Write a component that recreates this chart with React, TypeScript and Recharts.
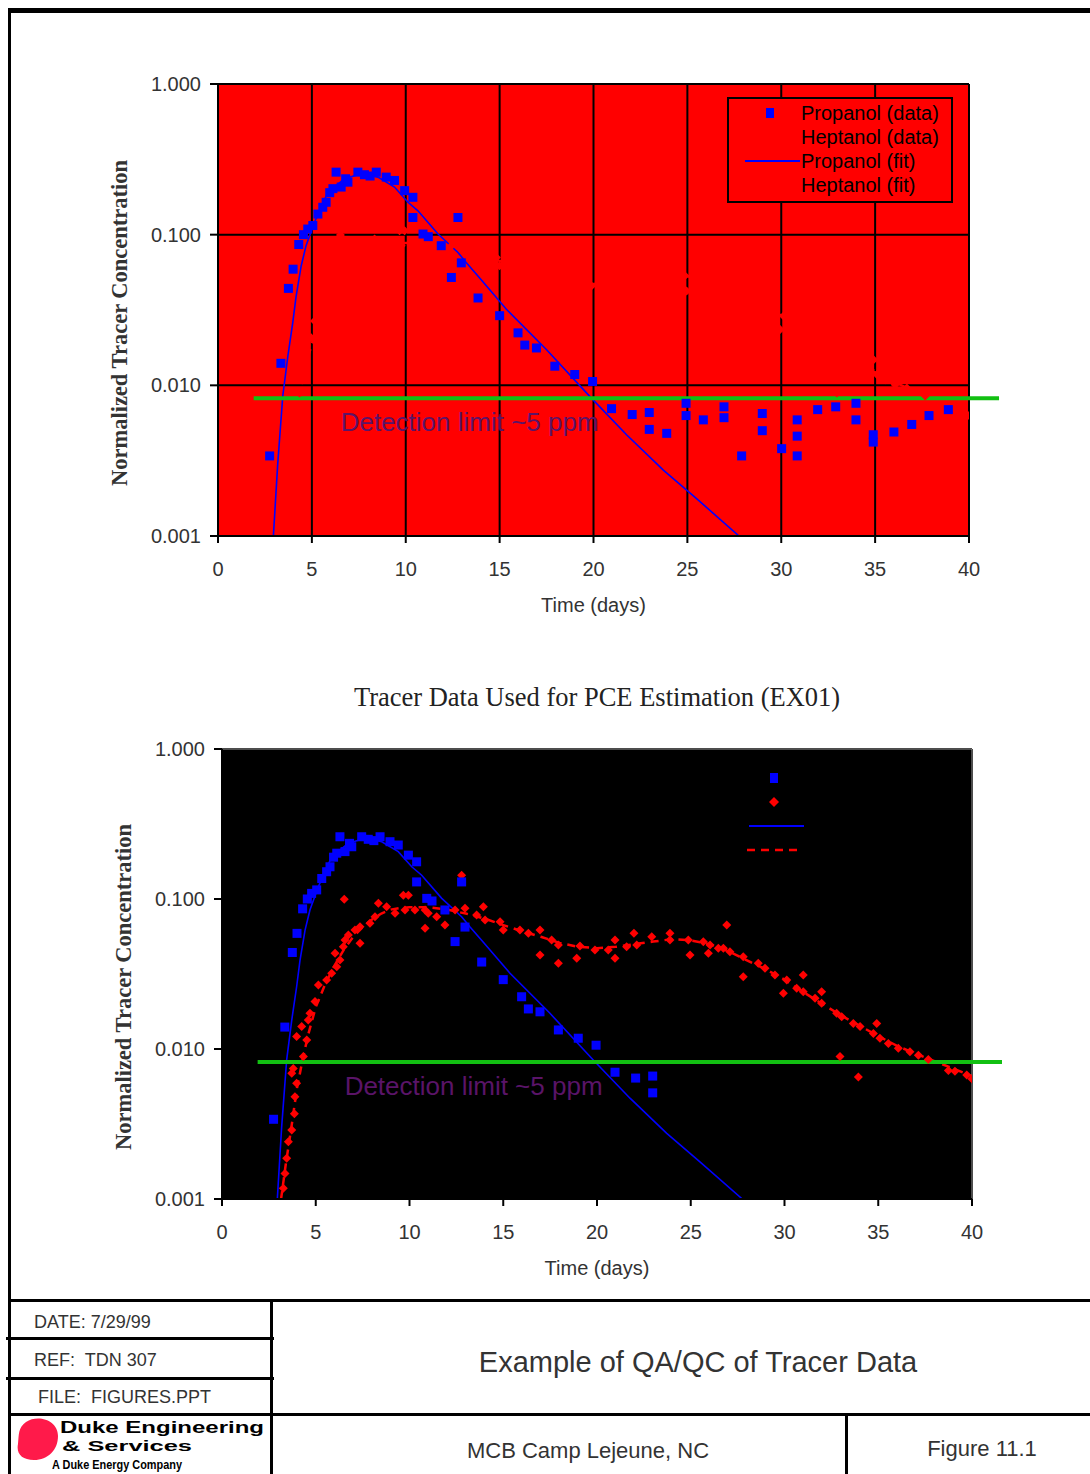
import React from "react";
import {
  CartesianGrid,
  ComposedChart,
  Legend,
  Line,
  ReferenceLine,
  Scatter,
  XAxis,
  YAxis,
} from "recharts";

const SANS = '"Liberation Sans", Arial, sans-serif';
const SERIF = '"Liberation Serif", "Times New Roman", serif';

// Axis setup shared by both panels.
const X_TICKS = [0, 5, 10, 15, 20, 25, 30, 35, 40];
const Y_TICKS = [0.001, 0.01, 0.1, 1];
const DETECTION_LIMIT = 0.0082;

// [day, normalized concentration].
const PROPANOL_DATA = [
  [2.75, 0.0034], [3.35, 0.014], [3.75, 0.044], [4.0, 0.059], [4.3, 0.086],
  [4.55, 0.1], [4.78, 0.109], [5.05, 0.115], [5.32, 0.137], [5.58, 0.152],
  [5.76, 0.164], [5.95, 0.19], [6.12, 0.202], [6.29, 0.26], [6.56, 0.207],
  [6.8, 0.235], [6.92, 0.223], [7.45, 0.26], [7.8, 0.25], [8.1, 0.245],
  [8.43, 0.26], [8.96, 0.241], [9.4, 0.229], [9.94, 0.196], [10.38, 0.177],
  [10.38, 0.13], [10.92, 0.101], [11.2, 0.097], [11.89, 0.0845], [12.43, 0.052],
  [12.78, 0.13], [12.96, 0.065], [13.85, 0.038], [15.0, 0.029], [15.98, 0.0223],
  [16.34, 0.0185], [16.96, 0.0177], [17.94, 0.0134], [19.0, 0.0118], [19.95, 0.0106],
  [20.96, 0.007], [22.06, 0.0064], [22.97, 0.0066], [22.97, 0.0051],
];

// Propanol samples below the detection limit (only plotted in the raw panel).
const PROPANOL_BELOW_LIMIT = [
  [23.9, 0.0048], [24.93, 0.0076], [24.93, 0.0063], [25.85, 0.0059], [26.95, 0.0072],
  [26.95, 0.0061], [27.89, 0.0034], [28.99, 0.0065], [28.99, 0.005], [30.02, 0.0038],
  [30.85, 0.0059], [30.85, 0.0046], [30.85, 0.0034], [31.94, 0.0069], [32.9, 0.0072],
  [33.98, 0.0076], [33.98, 0.0059], [34.9, 0.0047], [34.9, 0.0042], [36.0, 0.0049],
  [36.95, 0.0055], [37.87, 0.0063], [38.9, 0.0069],
];

const HEPTANOL_DATA = [
  [3.27, 0.00118], [3.36, 0.00148], [3.45, 0.00187], [3.54, 0.00241], [3.72, 0.00288],
  [3.72, 0.0069], [3.8, 0.0074], [3.86, 0.0037], [3.89, 0.0048], [3.98, 0.0059],
  [3.98, 0.0121], [4.25, 0.0141], [4.34, 0.0089], [4.52, 0.0115], [4.6, 0.0156],
  [4.69, 0.0173], [4.96, 0.0207], [5.14, 0.0267], [5.58, 0.0288], [5.85, 0.032],
  [6.03, 0.0435], [6.12, 0.0354], [6.29, 0.0392], [6.47, 0.0481], [6.52, 0.0995],
  [6.56, 0.0533], [6.74, 0.0575], [7.09, 0.0621], [7.36, 0.0654], [7.36, 0.0507],
  [7.89, 0.0689], [8.16, 0.0762], [8.34, 0.0936], [8.78, 0.0889], [9.23, 0.0803],
  [9.67, 0.106], [9.76, 0.0845], [9.94, 0.106], [10.29, 0.0845], [10.83, 0.0845],
  [10.83, 0.0638], [11.0, 0.0803], [11.45, 0.0762], [11.89, 0.0671], [12.43, 0.0845],
  [12.78, 0.144], [12.96, 0.0867], [13.58, 0.0782], [13.94, 0.0889], [14.03, 0.0724],
  [14.83, 0.0706], [15.0, 0.0621], [15.89, 0.0621], [16.34, 0.059], [16.96, 0.0621],
  [16.96, 0.0423], [17.58, 0.0533], [17.94, 0.0494], [17.94, 0.0373], [18.92, 0.0402],
  [19.09, 0.0486], [19.89, 0.0457], [20.6, 0.0457], [20.96, 0.0533], [20.96, 0.0402],
  [21.58, 0.0481], [21.97, 0.059], [22.12, 0.0494], [22.92, 0.0561], [23.89, 0.059],
  [23.89, 0.0533], [24.87, 0.0533], [24.96, 0.0423], [25.67, 0.0519], [25.94, 0.0435],
  [26.03, 0.0494], [26.47, 0.0469], [26.74, 0.0469], [26.92, 0.0671], [27.09, 0.0445],
  [27.8, 0.0412], [27.8, 0.0303], [28.6, 0.0373], [28.96, 0.0345], [29.49, 0.0311],
  [29.94, 0.0235], [30.12, 0.0288], [30.65, 0.0254], [31.0, 0.0311], [31.0, 0.0241],
  [31.63, 0.0218], [31.98, 0.0241], [31.98, 0.0202], [32.78, 0.0173], [32.96, 0.0089],
  [33.05, 0.0164], [33.67, 0.0148], [33.94, 0.0065], [34.03, 0.0141], [34.74, 0.0127],
  [34.92, 0.0148], [35.09, 0.0118], [35.54, 0.0109], [36.07, 0.0101], [36.69, 0.0096],
  [37.14, 0.0091], [37.67, 0.0085], [38.74, 0.0072], [39.09, 0.0071], [39.72, 0.0067],
  [40.0, 0.0063],
];

const PROPANOL_FIT = [
  [2.95, 0.001], [3.18, 0.003], [3.45, 0.0085], [3.72, 0.0156], [3.98, 0.026],
  [4.16, 0.039], [4.43, 0.062], [4.69, 0.0845], [5.14, 0.121], [5.85, 0.191],
  [6.74, 0.235], [7.63, 0.254], [8.52, 0.241], [9.4, 0.207], [10.12, 0.164],
  [10.65, 0.144], [11.72, 0.101], [12.78, 0.0762], [13.23, 0.065], [14.03, 0.05],
  [15.36, 0.032], [17.49, 0.0173], [19.8, 0.00845], [21.76, 0.0047], [23.72, 0.00274],
  [25.49, 0.00177], [27.75, 0.001],
];

const HEPTANOL_FIT = [
  [3.15, 0.001], [3.4, 0.0017], [3.7, 0.003], [4.0, 0.0055], [4.3, 0.0085],
  [4.6, 0.0125], [5.0, 0.019], [5.5, 0.027], [6.0, 0.036], [6.5, 0.046],
  [7.0, 0.056], [7.5, 0.065], [8.0, 0.073], [8.5, 0.08], [9.0, 0.085],
  [9.5, 0.087], [10, 0.088], [11, 0.088], [12, 0.085], [13, 0.08],
  [14, 0.074], [15, 0.067], [16, 0.061], [17, 0.056], [18, 0.051],
  [19, 0.048], [20, 0.047], [21, 0.048], [22, 0.05], [23, 0.052],
  [24, 0.054], [25, 0.053], [26, 0.05], [27, 0.045], [28, 0.039],
  [29, 0.034], [30, 0.029], [31, 0.024], [32, 0.02], [33, 0.0168],
  [34, 0.0143], [35, 0.0122], [36, 0.0105], [37, 0.0093], [38, 0.0083],
  [39, 0.0074], [40, 0.0066],
];

const LEGEND_ITEMS = [
  { name: "Propanol (data)", kind: "square" },
  { name: "Heptanol (data)", kind: "diamond" },
  { name: "Propanol (fit)", kind: "line" },
  { name: "Heptanol (fit)", kind: "dash" },
];

type Pt = { t: number; v: number };
const toPts = (rows: number[][]): Pt[] => rows.map(([t, v]) => ({ t, v }));

const BLUE = "#0000ff";
const RED = "#ff0000";
const GREEN = "#12c012";

// Chart-frame constants: plot area begins at (PLOT_X, PLOT_Y) inside the svg.
const MARGIN = { top: 24, right: 41, bottom: 64, left: 18 };
const Y_AXIS_W = 100;
const X_AXIS_H = 40;
const PLOT_X = MARGIN.left + Y_AXIS_W;
const PLOT_Y = MARGIN.top;

const AXIS_TICK = { fontSize: 20, fill: "#333", fontFamily: SANS };
const AXIS_STROKE = { stroke: "#000", strokeWidth: 2 };

function SquareDot(props: any) {
  const { cx, cy } = props;
  if (cx == null || cy == null) return <g />;
  return <rect x={cx - 4.5} y={cy - 4.5} width={9} height={9} fill={BLUE} />;
}

function DiamondDot(props: any) {
  const { cx, cy } = props;
  if (cx == null || cy == null) return <g />;
  const r = 4.5;
  return (
    <polygon
      points={`${cx},${cy - r} ${cx + r},${cy} ${cx},${cy + r} ${cx - r},${cy}`}
      fill={RED}
    />
  );
}

// The legend box is opaque (same fill as the plot), so grid lines stop at its edge.
function LegendBox({ bg }: { bg: string }) {
  return (
    <div
      style={{
        boxSizing: "border-box",
        width: 226,
        height: 106,
        border: "2px solid #000",
        background: bg,
        paddingTop: 2,
        fontFamily: SANS,
        fontSize: 20,
        color: "#000",
      }}
    >
      {LEGEND_ITEMS.map((item) => (
        <div key={item.name} style={{ display: "flex", alignItems: "center", height: 24 }}>
          <svg width={72} height={24} style={{ flex: "none" }}>
            {item.kind === "square" && <rect x={37} y={7} width={8} height={10} fill={BLUE} />}
            {item.kind === "diamond" && (
              <polygon points="41,7 46,12 41,17 36,12" fill={RED} />
            )}
            {item.kind === "line" && (
              <line x1={16} x2={71} y1={12} y2={12} stroke={BLUE} strokeWidth={2} />
            )}
            {item.kind === "dash" && (
              <line
                x1={14}
                x2={70}
                y1={12}
                y2={12}
                stroke={RED}
                strokeWidth={2.5}
                strokeDasharray="8 6"
              />
            )}
          </svg>
          <span style={{ whiteSpace: "nowrap", lineHeight: "24px" }}>{item.name}</span>
        </div>
      ))}
    </div>
  );
}

function TracerPlot({
  plotLeft,
  plotTop,
  plotW,
  plotH,
  bg,
  edge,
  propanol,
}: {
  plotLeft: number;
  plotTop: number;
  plotW: number;
  plotH: number;
  bg: string;
  edge: string;
  propanol: Pt[];
}) {
  const width = PLOT_X + plotW + MARGIN.right;
  const height = MARGIN.top + plotH + X_AXIS_H + MARGIN.bottom;

  const yTitle = () => {
    const cx = PLOT_X - 99;
    const cy = PLOT_Y + plotH / 2 + 13;
    return (
      <text
        x={cx}
        y={cy}
        transform={`rotate(-90, ${cx}, ${cy})`}
        textAnchor="middle"
        dominantBaseline="central"
        fontFamily={SERIF}
        fontWeight="bold"
        fontSize={22.5}
        fill="#333"
      >
        Normalized Tracer Concentration
      </text>
    );
  };

  const xTitle = () => (
    <text
      x={PLOT_X + plotW / 2}
      y={PLOT_Y + plotH + 69}
      textAnchor="middle"
      dominantBaseline="central"
      fontFamily={SANS}
      fontSize={20}
      fill="#333"
    >
      Time (days)
    </text>
  );

  const detectionLabel = (props: any) => {
    const vb = props.viewBox || {};
    return (
      <text
        x={(vb.x ?? 0) + 87}
        y={(vb.y ?? 0) + 24}
        dominantBaseline="central"
        fontFamily={SANS}
        fontSize={26}
        fill="#5a1468"
      >
        Detection limit ~5 ppm
      </text>
    );
  };

  return (
    <div style={{ position: "absolute", left: plotLeft - PLOT_X, top: plotTop - PLOT_Y, width, height }}>
      <ComposedChart width={width} height={height} margin={MARGIN}>
        <CartesianGrid fill={bg} fillOpacity={1} stroke="#000" strokeWidth={2} />
        <XAxis
          dataKey="t"
          type="number"
          domain={[0, 40]}
          ticks={X_TICKS}
          allowDataOverflow
          height={X_AXIS_H}
          tickSize={7}
          tickMargin={19}
          tick={AXIS_TICK}
          axisLine={AXIS_STROKE}
          tickLine={AXIS_STROKE}
          label={xTitle}
        />
        <YAxis
          dataKey="v"
          type="number"
          scale="log"
          domain={[0.001, 1]}
          ticks={Y_TICKS}
          allowDataOverflow
          width={Y_AXIS_W}
          tickSize={8}
          tickMargin={9}
          tick={AXIS_TICK}
          tickFormatter={(v: number) => v.toFixed(3)}
          axisLine={AXIS_STROKE}
          tickLine={AXIS_STROKE}
          label={yTitle}
        />
        <Scatter
          name="Heptanol (data)"
          data={toPts(HEPTANOL_DATA)}
          dataKey="v"
          shape={DiamondDot}
          isAnimationActive={false}
        />
        <Scatter
          name="Propanol (data)"
          data={propanol}
          dataKey="v"
          shape={SquareDot}
          isAnimationActive={false}
        />
        <Line
          name="Heptanol (fit)"
          data={toPts(HEPTANOL_FIT)}
          dataKey="v"
          type="linear"
          stroke={RED}
          strokeWidth={2.5}
          strokeDasharray="8 6"
          dot={false}
          isAnimationActive={false}
        />
        <Line
          name="Propanol (fit)"
          data={toPts(PROPANOL_FIT)}
          dataKey="v"
          type="linear"
          stroke={BLUE}
          strokeWidth={1.6}
          dot={false}
          isAnimationActive={false}
        />
        <ReferenceLine y={1} stroke={edge} strokeWidth={edge === "#000" ? 2 : 1} />
        <ReferenceLine x={40} stroke={edge} strokeWidth={edge === "#000" ? 2 : 1} />
        <ReferenceLine
          segment={[
            { x: 1.9, y: DETECTION_LIMIT },
            { x: 41.6, y: DETECTION_LIMIT },
          ]}
          stroke={GREEN}
          strokeWidth={4}
          ifOverflow="visible"
          label={detectionLabel}
        />
        <Legend
          layout="vertical"
          align="center"
          verticalAlign="middle"
          wrapperStyle={{ left: PLOT_X + 509, top: PLOT_Y + 13, width: 226, height: 106 }}
          content={() => <LegendBox bg={bg} />}
        />
      </ComposedChart>
    </div>
  );
}

function Rule({ x, y, w, h }: { x: number; y: number; w: number; h: number }) {
  return <div style={{ position: "absolute", left: x, top: y, width: w, height: h, background: "#000" }} />;
}

function Txt({
  x,
  y,
  size,
  family = SANS,
  anchor = "start",
  color = "#333",
  children,
}: {
  x: number;
  y: number;
  size: number;
  family?: string;
  anchor?: "start" | "middle";
  color?: string;
  children: React.ReactNode;
}) {
  return (
    <div
      style={{
        position: "absolute",
        left: x,
        top: y,
        transform: anchor === "middle" ? "translate(-50%, -50%)" : "translateY(-50%)",
        whiteSpace: "nowrap",
        fontFamily: family,
        fontSize: size,
        color,
        lineHeight: 1,
      }}
    >
      {children}
    </div>
  );
}

export default function App() {
  const rawPropanol = toPts([...PROPANOL_DATA, ...PROPANOL_BELOW_LIMIT]);
  const usedPropanol = toPts(PROPANOL_DATA);

  return (
    <div
      style={{
        position: "absolute",
        left: 0,
        top: 0,
        width: 1090,
        height: 1474,
        background: "#fff",
        overflow: "hidden",
      }}
    >
      {/* page frame */}
      <Rule x={8} y={8} w={1082} h={5} />
      <Rule x={8} y={8} w={3} h={1466} />

      <TracerPlot plotLeft={218} plotTop={84} plotW={751} plotH={452} bg={RED} edge="#000" propanol={rawPropanol} />

      <Txt x={597} y={697} size={26.5} family={SERIF} anchor="middle" color="#222">
        Tracer Data Used for PCE Estimation (EX01)
      </Txt>

      <TracerPlot plotLeft={222} plotTop={749} plotW={750} plotH={450} bg="#000" edge="#9a9a9a" propanol={usedPropanol} />

      {/* title block */}
      <Rule x={8} y={1299} w={1082} h={3} />
      <Rule x={270} y={1299} w={3} h={175} />
      <Rule x={6} y={1337} w={268} h={3} />
      <Rule x={6} y={1377} w={268} h={3} />
      <Rule x={8} y={1413} w={1082} h={3} />
      <Rule x={845} y={1413} w={3} h={61} />

      <Txt x={34} y={1322} size={18}>DATE: 7/29/99</Txt>
      <Txt x={34} y={1360} size={18}>REF:&nbsp; TDN 307</Txt>
      <Txt x={38} y={1397} size={18}>FILE:&nbsp; FIGURES.PPT</Txt>

      <Txt x={698} y={1362} size={29} anchor="middle">Example of QA/QC of Tracer Data</Txt>
      <Txt x={588} y={1451} size={22} anchor="middle">MCB Camp Lejeune, NC</Txt>
      <Txt x={982} y={1449} size={22} anchor="middle">Figure 11.1</Txt>

      {/* company logo */}
      <svg style={{ position: "absolute", left: 12, top: 1416 }} width={256} height={58}>
        <path d="M14 6 C26 -2 46 4 46 20 C46 34 36 44 22 44 C10 44 4 38 6 28 C7 18 6 12 14 6 Z" fill="#ff1a4a" />
        <text x={48} y={17} fontFamily={SANS} fontWeight="bold" fontSize={17} fill="#000" textLength={204} lengthAdjust="spacingAndGlyphs">
          Duke Engineering
        </text>
        <text x={50} y={35} fontFamily={SANS} fontWeight="bold" fontSize={15} fill="#000" textLength={130} lengthAdjust="spacingAndGlyphs">
          &amp; Services
        </text>
        <text x={40} y={53} fontFamily={SANS} fontWeight="bold" fontSize={12} fill="#000" textLength={130} lengthAdjust="spacingAndGlyphs">
          A Duke Energy Company
        </text>
      </svg>
    </div>
  );
}
